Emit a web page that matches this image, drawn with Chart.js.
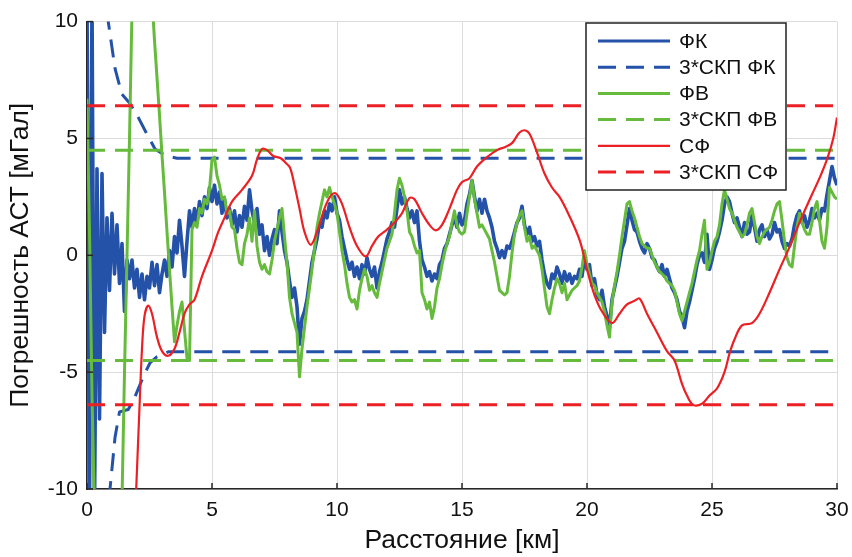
<!DOCTYPE html>
<html>
<head>
<meta charset="utf-8">
<script src="https://cdn.jsdelivr.net/npm/chart.js@4.4.1/dist/chart.umd.min.js"></script>
<style>
  html, body { margin: 0; padding: 0; background: #fff; }
</style>
</head>
<body>
<canvas id="chart" width="852" height="557"></canvas>
<script>
// distance step of the filter error series, km
const stepKm = 0.1;

// ФК error, every 0.1 km from 0 to 30
const fkVals = [
  11, -11, 11, -11, 3.7, -7, 3.5, -3.3, 1.6, -1.5,
  1.8, -0.8, 1.3, -1.2, 0.5, -2.4, -0.2, -1.0, -0.2, -1.4,
  -0.6, -1.8, -0.8, -1.9, -0.9, -1.4, -0.3, -1.3, -0.4, -1.6,
  -0.8, -0.2, -0.9, 0.2, -0.5, 0.8, 0.1, 1.5, 0.4, -0.9,
  0.6, 1.9, 1.2, 2.0, 1.4, 2.3, 1.7, 2.5, 2.0, 2.9,
  2.3, 3.0, 2.2, 2.7, 1.8, 2.4, 1.6, 2.0, 1.3, 1.9,
  1.0, 1.7, 1.2, 2.1, 1.5, 2.8, 1.9, 1.4, 2.0, 0.9,
  1.3, 0.2, 0.8, 0.0, 0.7, 1.1, 0.5, 1.9, 1.0, 0.2,
  -0.3, -1.1, -1.8, -1.4, -2.2, -3.8, -2.7, -2.4, -1.9, -1.1,
  -0.3, 0.2, 0.7, 1.4, 1.2, 1.9, 1.6, 2.2, 1.9, 2.5,
  1.8, 1.5, 0.8, 0.3, -0.2, -0.6, -0.3, -0.9, -0.5, -1.0,
  -0.4, -0.8, -0.1, -0.6, -0.9, -0.5, -1.4, -0.7, -0.3, 0.2,
  0.7, 1.0, 1.4, 1.2, 2.0, 2.8, 2.2, 2.5, 2.0, 1.6,
  1.9, 1.4, 1.9, 0.6, -0.2, -0.5, -0.9, -0.7, -1.1, -0.8,
  -1.0, -0.4, -0.2, 0.3, 0.5, 0.9, 1.3, 1.6, 1.2, 1.8,
  1.3, 1.5, 2.2, 2.6, 3.2, 2.5, 1.9, 2.4, 1.8, 2.4,
  1.9, 1.6, 1.2, 0.6, 0.3, -0.1, 0.2, -0.1, 0.4, 0.3,
  0.6, 1.0, 1.4, 1.6, 2.1, 1.3, 0.9, 1.2, 0.6, 0.8,
  0.4, 0.6, -0.2, -0.8, -1.2, -1.4, -0.8, -1.0, -0.5, -0.8,
  -1.2, -0.7, -1.1, -0.8, -1.2, -0.9, -1.0, -0.6, -0.9, -0.1,
  -0.6, -0.4, -1.3, -1.0, -1.7, -1.9, -1.5, -2.2, -2.6, -3.1,
  -1.9, -1.4, -0.9, -0.3, 0.3, 0.6, 1.3, 2.0, 1.5, 1.1,
  1.0, 0.6, 0.3, 0.1, 0.5, 0.3, -0.1, -0.2, -0.5, -0.7,
  -0.4, -0.9, -0.6, -1.0, -1.4, -1.6, -1.9, -2.4, -2.6, -3.1,
  -2.4, -2.0, -1.5, -1.0, -0.4, 0.0, 0.1, -0.3, 0.9, -0.6,
  -0.2, 0.3, 0.6, 1.0, 1.5, 2.2, 2.5, 2.3, 1.8, 1.4,
  1.6, 1.2, 0.8, 1.4, 0.9, 1.0, 1.7, 1.2, 0.6, 1.1,
  1.3, 0.8, 1.1, 0.7, 0.9, 1.4, 1.0, 1.1, 0.6, 0.3,
  0.5, 0.4, 0.7, 1.3, 1.7, 1.9, 1.4, 1.7, 1.2, 1.5,
  2.0, 1.6, 1.8, 1.5, 2.0, 1.9, 2.6, 3.2, 3.8, 3.3,
  3.0
];

// ФВ error, every 0.1 km from 0 to 30
const fvVals = [
  6.7, 1.0, -6.0, -11, -11, -11, -11, -11, -11, -11,
  -11, -11, -11, -11, -10.5, -5.0, 0.0, 5.0, 10.5, 11,
  11, 11, 11, 11, 11, 11, 11, 9.2, 7.6, 6.0,
  4.3, 2.7, 1.0, -0.6, -2.2, -3.7, -3.0, -2.4, -2.0, -3.2,
  -4.4, -4.5, 1.1, 1.4, 1.2, 2.0, 1.8, 2.4, 2.2, 2.8,
  4.1, 4.2, 3.4, 3.0, 2.4, 2.5, 1.8, 1.9, 1.2, 1.1,
  0.3, -0.3, -0.4, 0.5, 0.9, 1.6, 0.6, 1.9, 0.4, -0.3,
  -0.6, -0.4, -0.7, -0.8, -0.2, 0.6, 1.1, 1.6, 2.0, 0.8,
  -0.3, -1.8, -2.5, -2.9, -3.3, -5.2, -4.0, -3.1, -2.2, -1.4,
  -0.6, 0.3, 1.2, 1.8, 2.3, 2.8, 2.5, 2.9, 2.5, 2.2,
  1.8, 1.0, 0.2, -0.4, -1.2, -1.8, -2.0, -1.9, -2.3, -1.5,
  -1.0, -0.6, -0.9, -1.5, -1.3, -1.6, -1.8, -1.2, -0.7, -0.2,
  0.3, 0.6, 0.9, 1.8, 2.8, 3.3, 3.0, 2.5, 1.9, 1.0,
  0.8, 0.4, 0.1, 0.2, -1.6, -1.9, -2.3, -2.0, -2.7, -2.2,
  -1.4, -1.0, -0.4, 0.1, 0.5, 0.8, 1.4, 1.9, 1.3, 1.0,
  0.9, 1.0, 1.8, 2.5, 3.2, 2.4, 1.8, 1.2, 1.3, 1.1,
  0.9, 0.7, 0.2, -0.3, -0.9, -1.5, -1.6, -1.7, -1.6, -0.9,
  0.1, 0.9, 1.4, 1.7, 1.9, 1.2, 0.6, 0.8, 0.3, 0.4,
  0.2, 0.0, -0.6, -1.4, -2.2, -2.5, -1.9, -1.4, -1.0, -1.2,
  -1.6, -1.2, -1.9, -1.7, -1.5, -1.4, -1.3, -1.1, -0.5, 0.2,
  -0.4, -0.8, -1.2, -1.3, -1.6, -1.8, -2.0, -2.4, -3.0, -3.5,
  -2.0, -1.3, -0.7, 0.0, 0.8, 1.5, 2.2, 2.3, 1.9, 1.6,
  1.2, 0.8, 0.5, 0.4, 0.3, 0.3, 0.0, -0.3, -0.5, -0.7,
  -0.8, -0.9, -1.1, -1.2, -1.3, -1.5, -2.0, -2.5, -2.8, -2.4,
  -2.0, -1.6, -1.2, -0.7, -0.2, 0.2, 0.9, 1.5, -0.6, -0.3,
  0.2, 0.6, 0.8, 1.3, 2.2, 2.8, 2.4, 2.0, 1.8, 1.5,
  1.2, 1.0, 0.8, 0.9, 1.3, 1.8, 2.0, 1.4, 0.8, 0.5,
  0.8, 1.0, 1.1, 1.2, 1.5, 1.9, 2.2, 2.3, 1.5, 0.6,
  -0.1, -0.4, -0.5, 0.4, 1.2, 1.8, 1.4, 1.1, 0.9, 0.9,
  1.4, 2.0, 2.3, 1.5, 0.6, 0.3, 1.2, 2.9, 2.7, 2.5,
  2.4
];

// СФ error (smooth), km / value pairs
const sfKm = [1.95, 2.1, 2.2, 2.3, 2.45, 2.6, 2.8, 3.0, 3.25, 3.5, 3.7, 3.9, 4.1, 4.3, 4.6, 5.0, 5.25, 5.5,
  5.8, 6.2, 6.6, 6.8, 7.0, 7.2, 7.45, 7.75, 7.95, 8.12, 8.3, 8.5, 8.7, 8.95, 9.2, 9.5, 9.75, 9.95,
  10.2, 10.5, 10.8, 11.15, 11.4, 11.65, 12.0, 12.3, 12.6, 12.9, 13.1, 13.4, 13.7, 13.95, 14.2, 14.5,
  14.8, 15.0, 15.3, 15.6, 16.0, 16.4, 16.75, 17.0, 17.3, 17.5, 17.7, 18.0, 18.3, 18.6, 18.9, 19.2,
  19.5, 19.75, 20.0, 20.3, 20.6, 21.0, 21.3, 21.6, 21.9, 22.1, 22.4, 22.8, 23.2, 23.5, 23.8, 24.0,
  24.25, 24.6, 24.9, 25.2, 25.5, 25.7, 25.9, 26.2, 26.6, 26.9, 27.3, 27.7, 28.1, 28.5, 29.0, 29.3,
  29.6, 29.85, 30.0];
const sfVals = [-10.5, -6.5, -4.0, -2.6, -2.15, -2.5, -3.5, -4.1, -4.3, -4.0, -3.3, -2.5, -2.1, -1.9, -0.9, 0.2, 1.0, 1.6,
  2.3, 2.8, 3.4, 4.1, 4.55, 4.5, 4.25, 4.15, 3.95, 3.75, 3.0, 2.0, 1.0, 0.45, 1.0, 2.0, 2.55, 2.65,
  2.2, 1.2, 0.4, -0.05, 0.4, 0.8, 1.1, 1.4, 1.8, 2.45, 2.4, 1.8, 1.3, 1.07, 1.3, 2.0,
  2.8, 3.13, 3.3, 3.8, 4.2, 4.5, 4.65, 4.8, 5.25, 5.35, 5.2, 4.4, 3.5, 2.9, 2.5, 1.9,
  1.2, 0.5, -0.6, -1.7, -2.4, -2.9, -2.5, -2.1, -1.95, -1.85, -2.5, -3.3, -4.1, -4.5, -5.5, -6.0,
  -6.4, -6.35, -6.0, -5.7, -5.0, -4.2, -3.6, -3.0, -2.9, -2.5, -1.6, -0.6, 0.35, 1.4, 2.6, 3.3,
  4.1, 5.0, 5.9];

// 3*СКП ФК bounds (upper / lower)
const skpFkUpperKm = [0.5, 0.85, 1.12, 1.39, 1.72, 2.05, 2.39, 2.72, 3.12, 3.6, 30];
const skpFkUpperVals = [14, 10, 8.0, 6.9, 6.5, 5.9, 5.2, 4.55, 4.27, 4.15, 4.15];
const skpFkLowerKm = [0.5, 0.92, 1.12, 1.3, 1.65, 1.92, 2.25, 2.52, 2.79, 3.25, 30];
const skpFkLowerVals = [-14, -10, -7.8, -6.7, -6.6, -6.05, -5.2, -4.6, -4.35, -4.13, -4.13];

// 3*СКП ФВ and 3*СКП СФ are constant
const skpFv = 4.5;
const skpSf = 6.4;

const xTicks = [0, 5, 10, 15, 20, 25, 30];
const yTicks = [-10, -5, 0, 5, 10];

const seriesLabels = ['ФК', '3*СКП ФК', 'ФВ', '3*СКП ФВ', 'СФ', '3*СКП СФ'];

const blue = 'rgb(35, 82, 168)';
const green = 'rgb(102, 187, 60)';
const red = 'rgb(236, 32, 36)';
const dash = [18, 10];

const onGrid = vals => vals.map((v, i) => ({ x: +(i * stepKm).toFixed(1), y: v }));
const pairs = (xs, ys) => xs.map((x, i) => ({ x, y: ys[i] }));
const gap = { x: 15, y: null };
const band = (upper, lower) => [...upper, gap, ...lower];
const flat = v => band([{ x: 0, y: v }, { x: 30, y: v }], [{ x: 0, y: -v }, { x: 30, y: -v }]);

// inward tick marks and a boxed legend inside the axes
const frameExtras = {
  id: 'frameExtras',
  afterDatasetsDraw(chart) {
    const { ctx, chartArea: a, scales: { x, y } } = chart;
    ctx.save();
    ctx.strokeStyle = '#262626';
    ctx.lineWidth = 1.5;
    xTicks.forEach(v => {
      const px = x.getPixelForValue(v);
      ctx.beginPath();
      ctx.moveTo(px, a.bottom);
      ctx.lineTo(px, a.bottom - 6);
      ctx.stroke();
    });
    yTicks.forEach(v => {
      const py = y.getPixelForValue(v);
      ctx.beginPath();
      ctx.moveTo(a.left, py);
      ctx.lineTo(a.left + 6, py);
      ctx.stroke();
    });
    ctx.restore();
  },
  afterDraw(chart) {
    const { ctx } = chart;
    const box = { left: 586, top: 23, width: 200, height: 167 };
    ctx.save();
    ctx.fillStyle = '#fff';
    ctx.fillRect(box.left, box.top, box.width, box.height);
    ctx.strokeStyle = '#222';
    ctx.lineWidth = 1.5;
    ctx.strokeRect(box.left, box.top, box.width, box.height);
    ctx.font = '21px "Liberation Sans", Arial, sans-serif';
    ctx.textBaseline = 'middle';
    ctx.fillStyle = '#111';
    chart.data.datasets.forEach((ds, i) => {
      const rowY = box.top + 18 + i * 26.2;
      ctx.strokeStyle = ds.borderColor;
      ctx.lineWidth = Math.min(ds.borderWidth, 3);
      ctx.setLineDash(ds.borderDash || []);
      ctx.beginPath();
      ctx.moveTo(box.left + 12, rowY);
      ctx.lineTo(box.left + 84, rowY);
      ctx.stroke();
      ctx.setLineDash([]);
      ctx.fillText(ds.label, box.left + 93, rowY + 1);
    });
    ctx.restore();
  }
};

const font = { family: '"Liberation Sans", Arial, sans-serif' };

new Chart(document.getElementById('chart'), {
  type: 'line',
  data: {
    datasets: [
      { label: seriesLabels[0], data: onGrid(fkVals), borderColor: blue, borderWidth: 3.6, order: 6 },
      { label: seriesLabels[1], data: band(pairs(skpFkUpperKm, skpFkUpperVals), pairs(skpFkLowerKm, skpFkLowerVals)),
        borderColor: blue, borderWidth: 3, borderDash: dash, order: 5 },
      { label: seriesLabels[2], data: onGrid(fvVals), borderColor: green, borderWidth: 3, order: 4 },
      { label: seriesLabels[3], data: flat(skpFv), borderColor: green, borderWidth: 3, borderDash: dash, order: 3 },
      { label: seriesLabels[4], data: pairs(sfKm, sfVals), borderColor: red, borderWidth: 2.2, tension: 0.35, order: 2 },
      { label: seriesLabels[5], data: flat(skpSf), borderColor: red, borderWidth: 3, borderDash: dash, order: 1 }
    ]
  },
  options: {
    responsive: false,
    animation: false,
    events: [],
    layout: { padding: { top: 21, right: 15, left: 0, bottom: 0 } },
    elements: { point: { radius: 0 }, line: { borderJoinStyle: 'round', borderCapStyle: 'butt' } },
    datasets: { line: { clip: 0, spanGaps: false } },
    plugins: { legend: { display: false }, tooltip: { enabled: false } },
    scales: {
      x: {
        type: 'linear', min: 0, max: 30,
        afterFit: s => { s.height = 68; s.paddingLeft = 0; s.paddingRight = 0; },
        afterBuildTicks: s => { s.ticks = xTicks.map(v => ({ value: v })); },
        ticks: { font: { ...font, size: 21 }, color: '#111', padding: 9, maxRotation: 0 },
        grid: { color: '#dcdcdc', lineWidth: 1, drawTicks: false },
        border: { color: '#262626', width: 1.5 },
        title: { display: true, text: 'Расстояние [км]', font: { ...font, size: 26.5 }, color: '#111', padding: { top: 0, bottom: 0 } }
      },
      y: {
        min: -10, max: 10,
        afterFit: s => { s.width = 87; },
        afterBuildTicks: s => { s.ticks = yTicks.map(v => ({ value: v })); },
        ticks: { font: { ...font, size: 21 }, color: '#111', padding: 9 },
        grid: { color: '#dcdcdc', lineWidth: 1, drawTicks: false },
        border: { color: '#262626', width: 1.5 },
        title: { display: true, text: 'Погрешность АСТ [мГал]', font: { ...font, size: 26.5 }, color: '#111', padding: { top: 5, bottom: 0 } }
      }
    }
  },
  plugins: [frameExtras]
});
</script>
</body>
</html>
